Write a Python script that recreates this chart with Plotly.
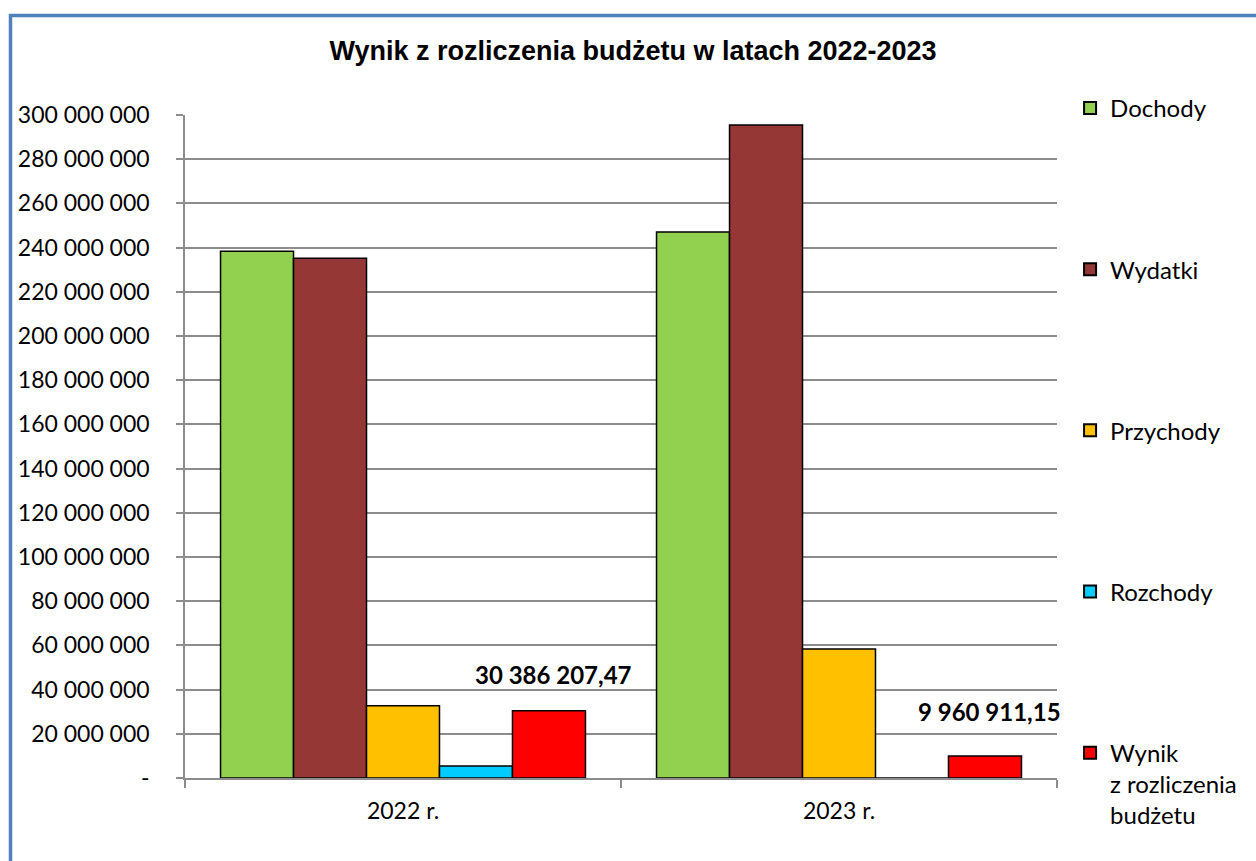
import plotly.graph_objects as go

categories = ["2022 r.", "2023 r."]
series_names = ["Dochody", "Wydatki", "Przychody", "Rozchody", "Wynik<br>z rozliczenia<br>budżetu"]
dochody = [238300000, 247100000]
wydatki = [235200000, 295500000]
przychody = [32700000, 58400000]
rozchody = [5400000, 0]
wynik = [30386207.47, 9960911.15]
colors = ["#92D050", "#953735", "#FFC000", "#00CCFF", "#FF0000"]
tick_values = list(range(0, 300000001, 20000000))


def fmt_pl(v, dec=0):
    s = f"{v:,.{dec}f}"
    s = s.replace(",", " ").replace(".", ",")
    return s


tick_text = ["-" if v == 0 else fmt_pl(v) for v in tick_values]

FONT = "Lato"
fig = go.Figure()
all_series = [dochody, wydatki, przychody, rozchody, wynik]
for i, (name, vals) in enumerate(zip(series_names, all_series)):
    fig.add_trace(go.Bar(
        x=categories, y=vals, name=name,
        marker=dict(color=colors[i], line=dict(color="black", width=1.5)),
        legendgroup=f"g{i}",
    ))

# data labels for Wynik
label_shift = [(4 + 146, 36), (4 + 146, 44)]
for c, v, (xs, ys) in zip(categories, wynik, label_shift):
    fig.add_annotation(x=c, y=v, text=f"<b>{fmt_pl(v, 2)}</b>", showarrow=False,
                       xshift=xs, yshift=ys, font=dict(family=FONT, size=24, color="black"))

fig.update_layout(
    width=1256, height=861,
    margin=dict(l=185, r=199, t=115, b=83, autoexpand=False),
    paper_bgcolor="white", plot_bgcolor="white",
    barmode="group", bargap=0.163, bargroupgap=0,
    title=dict(text="<b>Wynik z rozliczenia budżetu w latach 2022-2023</b>",
               x=633 / 1256, xref="container", xanchor="center",
               y=1 - 51 / 861, yref="container", yanchor="middle",
               font=dict(family="Liberation Sans", size=27, color="black")),
    font=dict(family=FONT, size=23, color="black"),
    legend=dict(x=1.015, xanchor="left", y=1.044, yanchor="top",
                font=dict(family=FONT, size=24), tracegroupgap=127,
                maxheight=850, itemsizing="constant", valign="top"),
    showlegend=True,
    shapes=[dict(type="rect", xref="paper", yref="paper",
                 x0=(10.5 - 185) / 872, x1=(1300 - 185) / 872,
                 y0=(778 - 900) / 663, y1=(778 - 15.5) / 663,
                 line=dict(color="#4F81BD", width=3.5), layer="below")],
)
fig.update_yaxes(range=[0, 300000000], tickvals=tick_values, ticktext=tick_text,
                 showgrid=True, gridcolor="#8c8c8c", gridwidth=1.5,
                 showline=True, linecolor="#8c8c8c", linewidth=1.5,
                 ticks="outside", ticklen=7, tickcolor="#8c8c8c", tickwidth=1.5,
                 ticklabelstandoff=22, zeroline=False, automargin=False,
                 tickfont=dict(family=FONT, size=23))
fig.update_xaxes(range=[-0.5, len(categories) - 0.5],
                 showline=True, linecolor="#8c8c8c", linewidth=1.5,
                 ticks="outside", tickson="boundaries", ticklen=8,
                 tickcolor="#8c8c8c", tickwidth=1.5, ticklabelstandoff=12,
                 automargin=False, tickfont=dict(family=FONT, size=23))

fig.write_html("out.html", config={"displayModeBar": False},
               post_script="document.body.style.margin='0';document.body.style.overflow='hidden';")
